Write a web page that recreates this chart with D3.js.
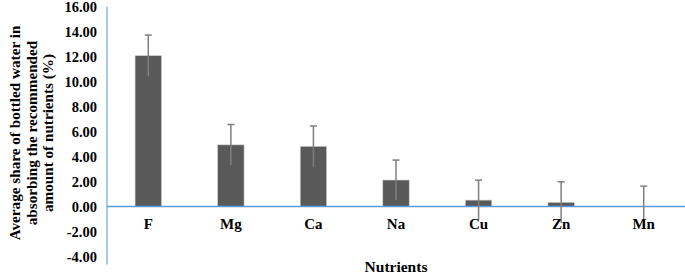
<!DOCTYPE html>
<html><head><meta charset="utf-8">
<script src="https://cdn.jsdelivr.net/npm/d3@7"></script>
<style>body{margin:0;background:#fff}svg{display:block}</style>
</head><body>
<script>
const categories = ["F","Mg","Ca","Na","Cu","Zn","Mn"];
const values = [12.1, 4.95, 4.83, 2.13, 0.52, 0.34, 0.0];
const errors = [1.65, 1.63, 1.63, 1.6, 1.6, 1.65, 1.64];
const yTicks = [-4,-2,0,2,4,6,8,10,12,14,16];
const yTitleLines = ["Average share of bottled water in","absorbing the recommended","amount of nutrients (%)"];
const xTitle = "Nutrients";

const FONT = "'Liberation Serif', 'Times New Roman', Times, serif";
const W=685,H=278;
const svg=d3.select("body").append("svg").attr("width",W).attr("height",H)
  .attr("font-family",FONT).attr("font-weight","bold");
const x=d3.scaleBand().domain(categories).range([107,685]).paddingInner(0.68).paddingOuter(0.34);
const y=d3.scaleLinear().domain([-4,16]).range([256.5,7]);

// y axis line
svg.append("line").attr("x1",107).attr("x2",107).attr("y1",y(16)).attr("y2",y(-4)+8)
  .attr("stroke","#8ab8e6").attr("stroke-width",1.5);
// y tick labels
svg.selectAll(".yt").data(yTicks).enter().append("text")
  .attr("x",97).attr("y",d=>y(d)).attr("dy","0.35em").attr("text-anchor","end")
  .attr("font-size",14.5).text(d=>d.toFixed(2));

// bars
svg.selectAll(".bar").data(values).enter().append("rect")
  .attr("x",(d,i)=>x(categories[i])).attr("width",x.bandwidth())
  .attr("y",d=>y(Math.max(d,0))).attr("height",d=>Math.abs(y(d)-y(0)))
  .attr("fill","#595959").attr("stroke","#d0d0d0").attr("stroke-width",0.6);

// zero line
svg.append("line").attr("x1",107).attr("x2",685).attr("y1",y(0)).attr("y2",y(0))
  .attr("stroke","#5b9bd5").attr("stroke-width",1.5);

// error bars
const eg=svg.selectAll(".err").data(values).enter().append("g");
eg.append("line").attr("x1",(d,i)=>x(categories[i])+x.bandwidth()/2).attr("x2",(d,i)=>x(categories[i])+x.bandwidth()/2)
  .attr("y1",(d,i)=>y(d+errors[i])).attr("y2",(d,i)=>y(d-errors[i]))
  .attr("stroke","#7f7f7f").attr("stroke-width",1.5);
eg.append("line").attr("x1",(d,i)=>x(categories[i])+x.bandwidth()/2-3.5).attr("x2",(d,i)=>x(categories[i])+x.bandwidth()/2+3.5)
  .attr("y1",(d,i)=>y(d+errors[i])).attr("y2",(d,i)=>y(d+errors[i]))
  .attr("stroke","#7f7f7f").attr("stroke-width",1.5);

// x labels
svg.selectAll(".xt").data(categories).enter().append("text")
  .attr("x",d=>x(d)+x.bandwidth()/2).attr("y",229).attr("text-anchor","middle")
  .attr("font-size",15).text(d=>d);
svg.append("text").attr("x",396).attr("y",272).attr("text-anchor","middle").attr("font-size",15.5).text(xTitle);

// y title
const yt=svg.append("text").attr("transform","translate(15,133) rotate(-90)").attr("text-anchor","middle").attr("font-size",15.2);
yTitleLines.forEach((l,i)=>yt.append("tspan").attr("x",0).attr("y",i*16.5).attr("dy","0.35em").text(l));
</script>
</body></html>
